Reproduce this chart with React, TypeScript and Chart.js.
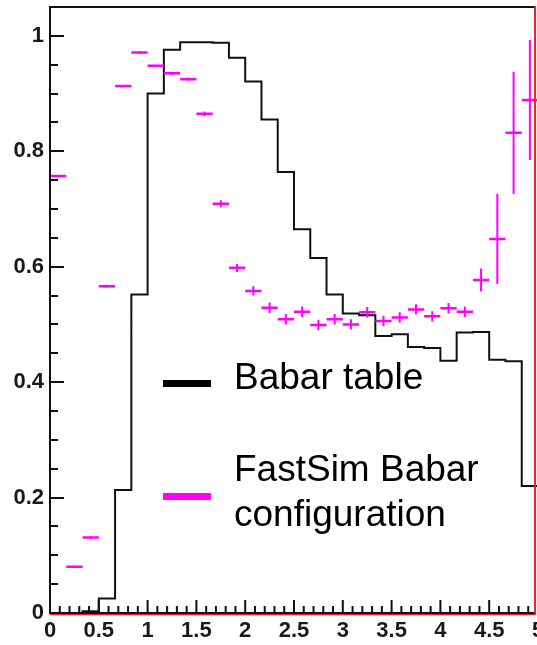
import { useEffect, useRef } from "react";
import { Chart, registerables } from "chart.js";

Chart.register(...registerables);

// ---- data ----
const X_MIN = 0;
const X_MAX = 5;
const BIN_COUNT = 30;
const Y_MIN = 0;
const Y_MAX = 1.05;

const BABAR_TABLE = [
  0, 0, 0.003, 0.025, 0.213, 0.552, 0.9, 0.976, 0.989, 0.989,
  0.988, 0.962, 0.921, 0.855, 0.764, 0.665, 0.615, 0.552, 0.519, 0.516,
  0.48, 0.483, 0.461, 0.459, 0.437, 0.486, 0.487, 0.439, 0.436, 0.22,
];

const FASTSIM = [
  0.757, 0.08, 0.131, 0.566, 0.913, 0.971, 0.948, 0.935, 0.925, 0.865,
  0.709, 0.598, 0.558, 0.529, 0.509, 0.522, 0.499, 0.509, 0.5, 0.521,
  0.506, 0.512, 0.526, 0.514, 0.528, 0.522, 0.577, 0.648, 0.832, 0.889,
];

const FASTSIM_ERR = [
  0.002, 0.002, 0.002, 0.002, 0.002, 0.002, 0.002, 0.003, 0.003, 0.004,
  0.006, 0.007, 0.008, 0.009, 0.009, 0.009, 0.009, 0.009, 0.009, 0.009,
  0.009, 0.009, 0.009, 0.009, 0.009, 0.009, 0.02, 0.078, 0.106, 0.104,
];

const X_TICKS = [0, 0.5, 1, 1.5, 2, 2.5, 3, 3.5, 4, 4.5, 5];
const X_TICK_LABELS = ["0", "0.5", "1", "1.5", "2", "2.5", "3", "3.5", "4", "4.5", "5"];
const Y_TICKS = [0, 0.2, 0.4, 0.6, 0.8, 1];
const Y_TICK_LABELS = ["0", "0.2", "0.4", "0.6", "0.8", "1"];

const SERIES_NAMES = ["Babar table", "FastSim Babar configuration"];
const LEGEND_LINES = [["Babar table"], ["FastSim Babar", "configuration"]];

// ---- styles ----
const BLACK = "#111111";
const MAGENTA = "#ff00ff";
const RED = "#e8202a";
const TICK_FONT = { family: "'Liberation Sans', Arial, Helvetica, sans-serif", size: 22, weight: "bold" as const };
const LEGEND_FONT = "37px 'Liberation Sans', Arial, Helvetica, sans-serif";
const FRAME_RIGHT_VALUE = 4.97;

const binWidth = (X_MAX - X_MIN) / BIN_COUNT;

function buildHistogram() {
  const pts: { x: number; y: number }[] = BABAR_TABLE.map((v, i) => ({ x: X_MIN + i * binWidth, y: v }));
  pts.push({ x: X_MAX, y: BABAR_TABLE[BABAR_TABLE.length - 1] });
  return pts;
}

function buildHorizontalBars() {
  const pts: { x: number; y: number | null }[] = [];
  FASTSIM.forEach((v, i) => {
    const lo = X_MIN + i * binWidth;
    const hi = lo + binWidth;
    pts.push({ x: lo, y: v }, { x: hi, y: v }, { x: hi, y: null });
  });
  return pts;
}

function buildVerticalBars() {
  const pts: { x: number; y: number | null }[] = [];
  FASTSIM.forEach((v, i) => {
    const c = X_MIN + (i + 0.5) * binWidth;
    const e = FASTSIM_ERR[i];
    pts.push({ x: c, y: v - e }, { x: c, y: v + e }, { x: c, y: null });
  });
  return pts;
}

const framePlugin = {
  id: "rootFrame",
  afterDatasetsDraw(chart: any) {
    const { ctx, chartArea, scales } = chart;
    const { left, top, bottom } = chartArea;
    const xs = scales.x;
    const ys = scales.y;
    const rightX = xs.getPixelForValue(FRAME_RIGHT_VALUE);
    ctx.save();
    ctx.lineCap = "butt";
    // bottom red + black axis
    ctx.strokeStyle = RED;
    ctx.lineWidth = 1.5;
    ctx.beginPath();
    ctx.moveTo(left, bottom + 1.5);
    ctx.lineTo(rightX, bottom + 1.5);
    ctx.stroke();

    ctx.strokeStyle = BLACK;
    ctx.lineWidth = 2;
    ctx.beginPath();
    ctx.moveTo(left, bottom);
    ctx.lineTo(rightX, bottom);
    ctx.moveTo(left, top);
    ctx.lineTo(rightX, top);
    ctx.moveTo(left, top - 1);
    ctx.lineTo(left, bottom + 1);
    ctx.stroke();

    // right red frame line
    ctx.strokeStyle = RED;
    ctx.lineWidth = 2;
    ctx.beginPath();
    ctx.moveTo(rightX, top - 1);
    ctx.lineTo(rightX, bottom + 2);
    ctx.stroke();

    // y ticks (inward)
    ctx.strokeStyle = BLACK;
    ctx.lineWidth = 2;
    ctx.beginPath();
    for (let k = 0; k <= Math.round((Y_MAX - Y_MIN) / 0.05); k++) {
      const v = Y_MIN + k * 0.05;
      if (v > Y_MAX + 1e-9) break;
      const major = k % 4 === 0;
      const py = Math.round(ys.getPixelForValue(v));
      ctx.moveTo(left, py);
      ctx.lineTo(left + (major ? 14 : 8), py);
    }
    // x ticks (inward)
    for (let k = 0; k <= Math.round((X_MAX - X_MIN) / 0.1); k++) {
      const v = X_MIN + k * 0.1;
      const px = xs.getPixelForValue(v);
      if (px > rightX) break;
      const major = k % 5 === 0;
      ctx.moveTo(px, bottom);
      ctx.lineTo(px, bottom - (major ? 13 : 7));
    }
    ctx.stroke();
    ctx.restore();
  },
  afterDraw(chart: any) {
    const { ctx } = chart;
    ctx.save();
    // legend
    ctx.fillStyle = "#000000";
    ctx.fillRect(163, 380, 48, 7);
    ctx.fillStyle = MAGENTA;
    ctx.fillRect(163, 493, 48, 7);
    ctx.fillStyle = "#000000";
    ctx.font = LEGEND_FONT;
    ctx.textAlign = "left";
    ctx.textBaseline = "alphabetic";
    ctx.fillText(LEGEND_LINES[0][0], 234, 389);
    ctx.fillText(LEGEND_LINES[1][0], 234, 481);
    ctx.fillText(LEGEND_LINES[1][1], 234, 526);
    ctx.restore();
  },
};

export default function App() {
  const canvasRef = useRef<HTMLCanvasElement | null>(null);

  useEffect(() => {
    document.body.style.margin = "0";
    const canvas = canvasRef.current;
    if (!canvas) return;
    const chart = new Chart(canvas, {
      type: "line",
      data: {
        datasets: [
          {
            label: SERIES_NAMES[1] + " (x err)",
            data: buildHorizontalBars() as any,
            borderColor: MAGENTA,
            borderWidth: 2.5,
            pointRadius: 0,
            spanGaps: false,
            fill: false,
            tension: 0,
          },
          {
            label: SERIES_NAMES[1],
            data: buildVerticalBars() as any,
            borderColor: MAGENTA,
            borderWidth: 2,
            pointRadius: 0,
            spanGaps: false,
            fill: false,
            tension: 0,
          },
          {
            label: SERIES_NAMES[0],
            data: buildHistogram(),
            borderColor: BLACK,
            borderWidth: 2,
            pointRadius: 0,
            stepped: "before",
            fill: false,
            tension: 0,
          },
        ],
      },
      options: {
        animation: false,
        responsive: false,
        devicePixelRatio: 1,
        events: [],
        layout: { padding: { left: 0, top: 7, right: 22, bottom: 0 } },
        plugins: {
          legend: { display: false },
          tooltip: { enabled: false },
        },
        scales: {
          x: {
            type: "linear",
            min: X_MIN,
            max: X_MAX,
            grid: { display: false, drawTicks: false },
            border: { display: false },
            afterFit: (scale: any) => {
              scale.height = 32;
              scale.paddingLeft = 0;
              scale.paddingRight = 0;
            },
            afterBuildTicks: (scale: any) => {
              scale.ticks = X_TICKS.map((v) => ({ value: v }));
            },
            ticks: {
              autoSkip: false,
              maxRotation: 0,
              minRotation: 0,
              padding: 5,
              color: "#1a1a1a",
              font: TICK_FONT,
              callback: (value: any) => {
                const idx = X_TICKS.findIndex((t) => Math.abs(t - Number(value)) < 1e-9);
                return idx >= 0 ? X_TICK_LABELS[idx] : "";
              },
            },
          },
          y: {
            type: "linear",
            min: Y_MIN,
            max: Y_MAX,
            grid: { display: false, drawTicks: false },
            border: { display: false },
            afterFit: (scale: any) => {
              scale.width = 50;
              scale.paddingTop = 0;
              scale.paddingBottom = 0;
            },
            afterBuildTicks: (scale: any) => {
              scale.ticks = Y_TICKS.map((v) => ({ value: v }));
            },
            ticks: {
              autoSkip: false,
              padding: 6,
              color: "#1a1a1a",
              font: TICK_FONT,
              callback: (value: any) => {
                const idx = Y_TICKS.findIndex((t) => Math.abs(t - Number(value)) < 1e-9);
                return idx >= 0 ? Y_TICK_LABELS[idx] : "";
              },
            },
          },
        },
      },
      plugins: [framePlugin],
    });
    return () => chart.destroy();
  }, []);

  return (
    <div style={{ position: "relative", width: 537, height: 645, overflow: "hidden", background: "#ffffff" }}>
      <canvas ref={canvasRef} width={560} height={645} style={{ display: "block" }} />
    </div>
  );
}
